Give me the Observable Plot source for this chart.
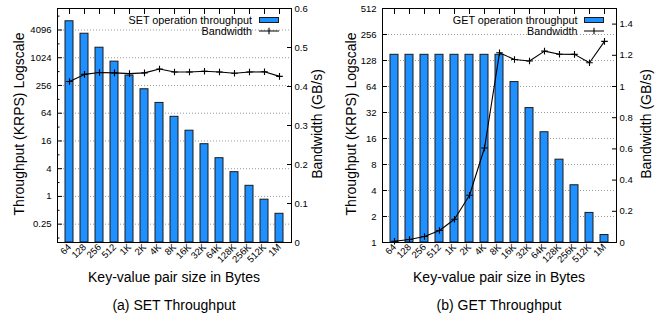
<!DOCTYPE html>
<html><head><meta charset="utf-8">
<script src="https://cdn.jsdelivr.net/npm/d3@7"></script>
<script src="https://cdn.jsdelivr.net/npm/@observablehq/plot@0.6"></script>
<style>
body{margin:0;background:#fff;font-family:"Liberation Sans",Arial,Helvetica,sans-serif;}
#root{position:relative;width:662px;height:320px;overflow:hidden;background:#fff;}
.panel{position:absolute;top:0;width:331px;height:320px;}
.panel svg{position:absolute;left:0;top:0;}
.t{position:absolute;white-space:nowrap;color:#000;line-height:1;}
</style></head><body><div id="root"></div>
<script>
// ---- data ----
const sizes = ["64","128","256","512","1K","2K","4K","8K","16K","32K","64K","128K","256K","512K","1M"];
const setThroughput = [6340, 3400, 1690, 843, 420, 212, 107, 53.5, 26.7, 13.6, 6.76, 3.36, 1.70, 0.85, 0.42];
const setBandwidth = [0.413, 0.431, 0.436, 0.435, 0.433, 0.435, 0.445, 0.437, 0.437, 0.439, 0.437, 0.434, 0.437, 0.438, 0.426];
const getThroughput = [149, 149, 149, 149, 149, 149, 149, 149, 72, 36, 18.9, 9.1, 4.6, 2.2, 1.22];
const getBandwidth = [0.008, 0.019, 0.038, 0.077, 0.149, 0.303, 0.606, 1.216, 1.173, 1.163, 1.227, 1.207, 1.206, 1.152, 1.289];

const setMajorTicks = [0.25, 1, 4, 16, 64, 256, 1024, 4096];
const setMinorTicks = [0.125, 0.5, 2, 8, 32, 128, 512, 2048, 8192];
const setBwTicks = [0, 0.1, 0.2, 0.3, 0.4, 0.5, 0.6];
const getMajorTicks = [1, 2, 4, 8, 16, 32, 64, 128, 256, 512];
const getMinorTicks = [];
const getBwTicks = [0, 0.2, 0.4, 0.6, 0.8, 1, 1.2, 1.4];

const FONT = '"Liberation Sans", Arial, Helvetica, sans-serif';
const BLUE = "#1e90ff";

const plusSymbol = {
  draw(context, size) {
    const h = Math.sqrt(size / Math.PI);
    context.moveTo(-h, 0); context.lineTo(h, 0);
    context.moveTo(0, -h); context.lineTo(0, h);
  }
};

function addText(parent, txt, opts) {
  const d = document.createElement("div");
  d.className = "t";
  d.textContent = txt;
  d.style.fontSize = opts.size + "px";
  d.style.left = opts.x + "px";
  d.style.top = opts.y + "px";
  d.style.transform = opts.transform || "translate(-50%,-50%)";
  parent.appendChild(d);
  return d;
}

function makePanel(cfg) {
  const root = document.getElementById("root");
  const panel = document.createElement("div");
  panel.className = "panel";
  panel.style.left = cfg.left + "px";
  root.appendChild(panel);

  const rows = sizes.map((s, i) => ({size: s, tput: cfg.tput[i], bw: cfg.bw[i]}));
  const W = 331, H = 320, mT = 8, mB = 78;
  const xScale = {type: "band", domain: sizes, paddingInner: 0.48, paddingOuter: 0.362, align: 0.5};
  const common = {
    width: W, height: H, marginLeft: cfg.mL, marginRight: cfg.mR, marginTop: mT, marginBottom: mB,
    style: {background: "transparent", fontFamily: FONT, color: "#000", overflow: "visible"}
  };
  const fmt = d => String(d);
  const yMin = cfg.yDomain[0];

  const bars = Plot.plot({
    ...common,
    x: xScale,
    y: {type: "log", base: 2, domain: cfg.yDomain},
    marks: [
      Plot.gridY(cfg.majors, {stroke: "#9a9a9a", strokeOpacity: 1, strokeDasharray: "1,2"}),
      Plot.barY(rows, {x: "size", y1: yMin, y2: "tput", fill: BLUE, stroke: "#1a1a1a", strokeWidth: 1}),
      Plot.axisY({ticks: cfg.majors, tickSize: -5, tickFormat: () => "", label: null}),
      Plot.axisY({ticks: cfg.minors, tickSize: -2.5, tickFormat: () => "", label: null}),
      Plot.axisY({ticks: cfg.majors, tickSize: 0, tickPadding: 6, tickFormat: fmt, label: null, fontSize: 9.5}),
      Plot.axisX({anchor: "top", tickSize: -5, tickFormat: () => "", label: null}),
      Plot.axisX({anchor: "bottom", tickSize: 0, tickPadding: 3, tickRotate: -45, label: null, fontSize: 9.5})
    ]
  });
  panel.appendChild(bars);

  const line = Plot.plot({
    ...common,
    x: {...xScale, axis: null},
    y: {domain: cfg.bwDomain},
    marks: [
      Plot.frame({stroke: "#000", strokeWidth: 1}),
      Plot.axisY({anchor: "right", ticks: cfg.bwTicks, tickSize: -5, tickFormat: () => "", label: null}),
      Plot.axisY({anchor: "right", ticks: cfg.bwTicks, tickSize: 0, tickPadding: 3, label: null, fontSize: 9.5,
        tickFormat: d => String(+d.toFixed(1))}),
      Plot.line(rows, {x: "size", y: "bw", stroke: "#000", strokeWidth: 1.1}),
      Plot.dot(rows, {x: "size", y: "bw", symbol: plusSymbol, r: 3.3, stroke: "#000", strokeWidth: 1.1, fill: "none"})
    ]
  });
  panel.appendChild(line);

  // axis titles
  addText(panel, "Throughput (KRPS) Logscale", {size: 14, x: cfg.yTitleX, y: 124, transform: "translate(-50%,-50%) rotate(-90deg)"});
  addText(panel, "Bandwidth (GB/s)", {size: 14, x: cfg.y2TitleX, y: 124, transform: "translate(-50%,-50%) rotate(-90deg)"});
  const cx = (cfg.mL + (W - cfg.mR)) / 2;
  addText(panel, "Key-value pair size in Bytes", {size: 14, x: cx, y: 277});
  addText(panel, cfg.caption, {size: 14, x: cx, y: 305});

  // legend
  const lgRight = cfg.legendRight;
  addText(panel, cfg.legendLabel, {size: 10.8, x: lgRight, y: 19.5, transform: "translate(-100%,-50%)"});
  addText(panel, "Bandwidth", {size: 10.8, x: lgRight, y: 30.5, transform: "translate(-100%,-50%)"});
  const sw = document.createElement("div");
  sw.style.cssText = `position:absolute;left:${lgRight + 6.5}px;top:17px;width:18px;height:3.5px;background:${BLUE};border:1px solid #1a1a1a;`;
  panel.appendChild(sw);
  const ns = "http://www.w3.org/2000/svg";
  const ls = document.createElementNS(ns, "svg");
  ls.setAttribute("width", 24); ls.setAttribute("height", 10);
  ls.style.cssText = `position:absolute;left:${lgRight + 5.5}px;top:25.5px;overflow:visible;`;
  ls.innerHTML = `<path d="M1,5H21M11,1.7V8.3M7.7,5H14.3" stroke="#000" stroke-width="1.1" fill="none"/>`;
  panel.appendChild(ls);
}

makePanel({
  left: 0, mL: 57, mR: 40,
  tput: setThroughput, bw: setBandwidth,
  yDomain: [0.1, 12000], majors: setMajorTicks, minors: setMinorTicks,
  bwDomain: [0, 0.6], bwTicks: setBwTicks,
  yTitleX: 19, y2TitleX: 317, legendRight: 252,
  legendLabel: "SET operation throughput", caption: "(a) SET Throughput"
});
makePanel({
  left: 331, mL: 51, mR: 46,
  tput: getThroughput, bw: getBandwidth,
  yDomain: [1, 512], majors: getMajorTicks, minors: getMinorTicks,
  bwDomain: [0, 1.5], bwTicks: getBwTicks,
  yTitleX: 20, y2TitleX: 315, legendRight: 246.5,
  legendLabel: "GET operation throughput", caption: "(b) GET Throughput"
});
</script></body></html>
